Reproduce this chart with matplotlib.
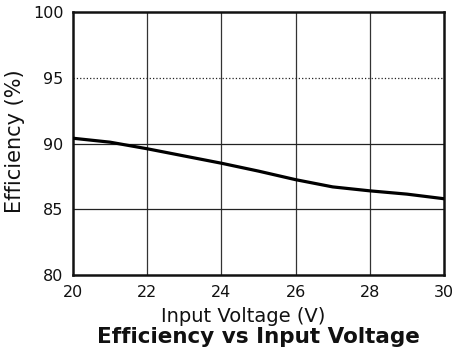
import numpy as np
import matplotlib.pyplot as plt

# efficiency curve read at 1 V steps
vin = [20, 21, 22, 23, 24, 25, 26, 27, 28, 29, 30]
eff = [90.4, 90.1, 89.6, 89.05, 88.5, 87.9, 87.25, 86.7, 86.4, 86.15, 85.8]

xticks = [20, 22, 24, 26, 28, 30]
yticks = [80, 85, 90, 95, 100]

plt.rcParams['font.family'] = ['DejaVu Sans']
W, H = 455, 353

fig = plt.figure(figsize=(W/100, H/100), dpi=100)
ax = fig.add_axes([73/W, 78/H, 371/W, 263/H])

ax.set_xlim(20, 30)
ax.set_ylim(80, 100)
ax.set_xticks(xticks)
ax.set_yticks(yticks)

# grid: solid verticals, dotted line at 95
for x in xticks[1:-1]:
    ax.axvline(x, color='#333333', lw=0.9, zorder=1)
for y in yticks[1:-1]:
    ls = ':' if y == 95 else '-'
    ax.axhline(y, color='#222222', lw=0.9, ls=ls, zorder=1)

ax.plot(vin, eff, color='black', lw=2.3, zorder=3)

for s in ax.spines.values():
    s.set_linewidth(1.8)
    s.set_color('#111111')

ax.tick_params(length=0, labelsize=11.5, colors='#111111')
ax.tick_params(axis='y', pad=7)
ax.tick_params(axis='x', pad=7)

fig.text(243/W, 1 - 322/H, 'Input Voltage (V)', ha='center', va='baseline',
         fontsize=14, color='#111111')
fig.text(15/W, 1 - 141/H, 'Efficiency (%)', ha='center', va='center',
         rotation=90, fontsize=15, color='#111111')
fig.text(258/W, 1 - 343/H, 'Efficiency vs Input Voltage', ha='center',
         va='baseline', fontsize=15.5, fontweight='bold', color='#111111')

fig.savefig('out.png', dpi=100)
